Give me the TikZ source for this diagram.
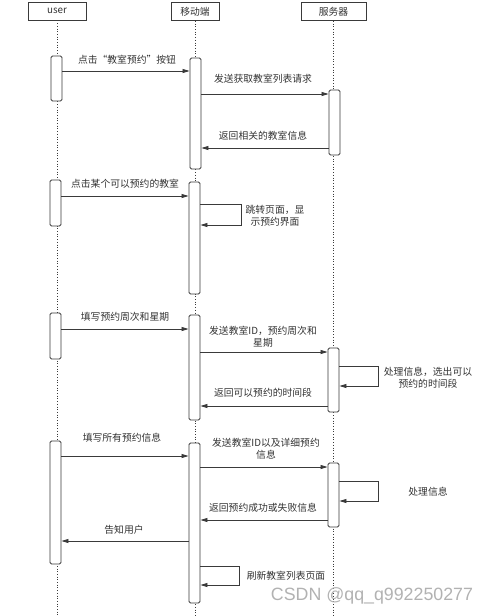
\documentclass[tikz,border=0pt]{standalone}
\usepackage{fontspec}
\setmainfont{Noto Sans CJK SC}
\newfontfamily\wmfont{Liberation Sans}
\usetikzlibrary{arrows.meta,fit}
\definecolor{ln}{HTML}{3A3A3A}
\definecolor{tx}{HTML}{333333}
\tikzset{
  head/.style={draw=ln, line width=0.8pt, minimum height=18pt, inner sep=0pt, font=\fontsize{9.8}{11}\selectfont, text=tx},
  life/.style={draw=ln, dotted, line width=0.7pt},
  act/.style={draw=ln, line width=0.9pt, rounded corners=1.5pt, fill=white, inner sep=0pt},
  msg/.style={draw=ln, line width=0.8pt, -{Triangle[length=7pt,width=4pt]}},
  lbl/.style={text=tx, font=\fontsize{9.8}{12}\selectfont, inner sep=0pt, align=center},
}
\begin{document}
\begin{tikzpicture}[x=1pt,y=-1pt]
\useasboundingbox (0,0) rectangle (492,616);
\fill[white] (0,0) rectangle (492,616);
% headers
\node[head, minimum width=58pt] (user) at (57,11) {user};
\node[head, minimum width=48pt] (mob) at (195,11.5) {移动端};
\node[head, minimum width=65pt] (srv) at (333.5,11.5) {服务器};
% lifelines
\draw[life] (user.south) -- (user.south |- 0,616);
\draw[life] (mob.south) -- (mob.south |- 0,616);
\draw[life] (srv.south) -- (srv.south |- 0,616);
% activations
\node[act, fit={(51,56)(62,101)}] (u1) {};
\node[act, fit={(190,58)(201,169)}] (m1) {};
\node[act, fit={(329,90)(340,155)}] (s1) {};
\node[act, fit={(50,180)(61,226)}] (u2) {};
\node[act, fit={(189,182)(200,294)}] (m2) {};
\node[act, fit={(50,313)(61,359)}] (u3) {};
\node[act, fit={(189,315)(200,420)}] (m3) {};
\node[act, fit={(328,348)(339,412)}] (s3) {};
\node[act, fit={(50,441)(61,564)}] (u4) {};
\node[act, fit={(189,443)(200,603)}] (m4) {};
\node[act, fit={(328,463)(339,527)}] (s4) {};
% block 1
\draw[msg] (u1.east |- 0,71) -- (m1.west |- 0,71);
\node[lbl] (l1) at (127,60) {点击“教室预约”按钮};
\draw[msg] (m1.east |- 0,94) -- (s1.west |- 0,94);
\node[lbl] (l2) at (263,79) {发送获取教室列表请求};
\draw[msg] (s1.west |- 0,148) -- (m1.east |- 0,148);
\node[lbl] (l3) at (263,136) {返回相关的教室信息};
% block 2
\draw[msg] (u2.east |- 0,196) -- (m2.west |- 0,196);
\node[lbl] (l4) at (125,184) {点击某个可以预约的教室};
\coordinate (c2a) at (241,204);
\coordinate (c2b) at (241,225);
\draw[msg] (m2.east |- c2a) -- (c2a) -- (c2b) -- (m2.east |- c2b);
\node[lbl] (l5) at (275,216) {跳转页面，显\\示预约界面};
% block 3
\draw[msg] (u3.east |- 0,329) -- (m3.west |- 0,329);
\node[lbl] (l6) at (125,317) {填写预约周次和星期};
\draw[msg] (m3.east |- 0,352) -- (s3.west |- 0,352);
\node[lbl] (l7) at (263,337) {发送教室ID，预约周次和\\星期};
\coordinate (c3a) at (378,366);
\coordinate (c3b) at (378,386);
\draw[msg] (s3.east |- c3a) -- (c3a) -- (c3b) -- (s3.east |- c3b);
\node[lbl] (l8) at (428,378) {处理信息，选出可以\\预约的时间段};
\draw[msg] (s3.west |- 0,406) -- (m3.east |- 0,406);
\node[lbl] (l9) at (263,393) {返回可以预约的时间段};
% block 4
\draw[msg] (u4.east |- 0,456) -- (m4.west |- 0,456);
\node[lbl] (l10) at (122,438) {填写所有预约信息};
\draw[msg] (m4.east |- 0,467) -- (s4.west |- 0,467);
\node[lbl] (l11) at (266,449) {发送教室ID以及详细预约\\信息};
\coordinate (c4a) at (378,481);
\coordinate (c4b) at (378,501);
\draw[msg] (s4.east |- c4a) -- (c4a) -- (c4b) -- (s4.east |- c4b);
\node[lbl] (l12) at (428,492) {处理信息};
\draw[msg] (s4.west |- 0,520) -- (m4.east |- 0,520);
\node[lbl] (l13) at (263,508) {返回预约成功或失败信息};
\draw[msg] (m4.west |- 0,541) -- (u4.east |- 0,541);
\node[lbl] (l14) at (124,530) {告知用户};
\coordinate (c5a) at (239,566);
\coordinate (c5b) at (239,585);
\draw[msg] (m4.east |- c5a) -- (c5a) -- (c5b) -- (m4.east |- c5b);
\node[lbl] (l15) at (286,576) {刷新教室列表页面};
% watermark
\node[text=black!30, font=\wmfont\fontsize{17.8}{20}\selectfont, inner sep=0pt] (wm) at (372,596) {CSDN @qq\_q992250277};
\end{tikzpicture}
\end{document}
